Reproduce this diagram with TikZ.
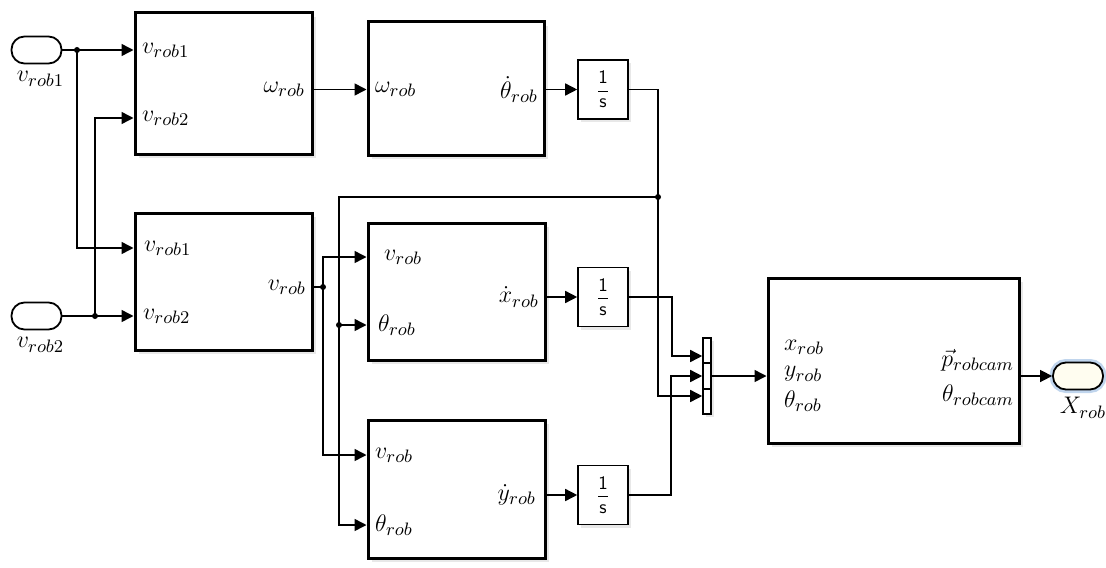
\documentclass[tikz,border=0pt]{standalone}
\usepackage{amsmath}
\usepackage{tikz}
\usetikzlibrary{arrows.meta,positioning,calc,shadows}
\definecolor{simglow}{RGB}{150,185,225}
\definecolor{simfill}{RGB}{255,253,240}

\tikzset{
  blk/.style={draw,line width=1.5pt,fill=white,
    drop shadow={shadow xshift=2pt,shadow yshift=-2pt,opacity=0.18}},
  intg/.style={draw,line width=0.8pt,fill=white,minimum width=25pt,
    minimum height=29.5pt,inner sep=0pt,font=\fontsize{9.5}{11}\sffamily,
    drop shadow={shadow xshift=1.5pt,shadow yshift=-1.5pt,opacity=0.18}},
  port/.style={draw,line width=0.9pt,fill=white,rounded corners=6.5pt,
    minimum width=25pt,minimum height=13.5pt,inner sep=0pt},
  sig/.style={->,line width=0.75pt},
  wire/.style={line width=0.75pt},
}

\begin{document}
\begin{tikzpicture}[x=0.5pt,y=-0.5pt,font=\fontsize{13}{15}\selectfont,
  >={Triangle[length=6pt,width=6pt]}]
  \useasboundingbox (0,0) rectangle (1106,567);

  % blocks
  \node[blk,minimum width=88.5pt,minimum height=70.5pt] (wblk) at (223.5,83.5) {};
  \node[blk,minimum width=88.5pt,minimum height=68.5pt] (vblk) at (223.5,281.5) {};
  \node[blk,minimum width=88pt,minimum height=66.5pt] (thblk) at (456,88.5) {};
  \node[blk,minimum width=88.5pt,minimum height=68.5pt] (dxblk) at (456.5,291.5) {};
  \node[blk,minimum width=88.5pt,minimum height=69pt] (dyblk) at (456.5,489) {};
  \node[blk,minimum width=125.5pt,minimum height=82.5pt] (camblk) at (893.5,360.5) {};

  \node[intg] (thint) at (603,89.5) {$\dfrac{\text{1}}{\text{s}}$};
  \node[intg] (xint) at (603,297) {$\dfrac{\text{1}}{\text{s}}$};
  \node[intg] (yint) at (603,495) {$\dfrac{\text{1}}{\text{s}}$};

  \node[draw,line width=0.8pt,fill=white,minimum width=4pt,minimum height=38pt,
    inner sep=0pt,drop shadow={shadow xshift=1.5pt,shadow yshift=-1.5pt,opacity=0.18}]
    (mux) at (707,376) {};
  \draw[line width=0.8pt] ($(mux.north west)!1/3!(mux.south west)$) -- ($(mux.north east)!1/3!(mux.south east)$);
  \draw[line width=0.8pt] ($(mux.north west)!2/3!(mux.south west)$) -- ($(mux.north east)!2/3!(mux.south east)$);

  % in and out ports
  \node[port] (vin1) at (36.5,50) {};
  \node[port] (vin2) at (36.5,316) {};
  \node[port,fill=simfill,preaction={draw=simglow,line width=3.5pt,opacity=0.6}]
    (xout) at (1078,376) {};
  \node[below=0pt of vin1,xshift=2pt] (vlab1) {$v_{rob1}$};
  \node[below=0pt of vin2,xshift=2pt] (vlab2) {$v_{rob2}$};
  \node[below=0pt of xout,xshift=2.5pt] (xlab) {$X_{rob}$};

  % port labels
  \node[anchor=west] (w1) at (135,50) {$v_{rob1}$};
  \node[anchor=west] (w2) at (135,118) {$v_{rob2}$};
  \node[anchor=east] (wo) at (312,89.5) {$\omega_{rob}$};
  \node[anchor=west] (v1) at (137,248) {$v_{rob1}$};
  \node[anchor=west] (v2) at (136,316) {$v_{rob2}$};
  \node[anchor=east] (vo) at (313,287) {$v_{rob}$};
  \node[anchor=west] (th1) at (368,89.5) {$\omega_{rob}$};
  \node[anchor=east] (tho) at (545,89.5) {$\dot{\theta}_{rob}$};
  \node[anchor=west] (dx1) at (377,257) {$v_{rob}$};
  \node[anchor=west] (dx2) at (371,325) {$\theta_{rob}$};
  \node[anchor=east] (dxo) at (546,297) {$\dot{x}_{rob}$};
  \node[anchor=west] (dy1) at (368,455) {$v_{rob}$};
  \node[anchor=west] (dy2) at (368,525) {$\theta_{rob}$};
  \node[anchor=east] (dyo) at (543,495) {$\dot{y}_{rob}$};
  \node[anchor=west] (c1) at (777,347) {$x_{rob}$};
  \node[anchor=west] (c2) at (777,374) {$y_{rob}$};
  \node[anchor=west] (c3) at (777,401) {$\theta_{rob}$};
  \node[anchor=east] (co1) at (1021,360) {$\vec{p}_{robcam}$};
  \node[anchor=east] (co2) at (1021,395) {$\theta_{robcam}$};

  % branch points
  \coordinate (j1) at (77,50);
  \coordinate (j2) at (95,316);
  \coordinate (j3) at (658,197);
  \coordinate (j4) at (339,325);
  \coordinate (j5) at (323,287);

  % signals
  \draw[sig] (vin1) -- (vin1 -| wblk.west);
  \draw[sig] (j1) |- (vblk.west |- v1);
  \draw[sig] (vin2) -- (vin2 -| vblk.west);
  \draw[sig] (j2) |- (wblk.west |- w2);
  \draw[sig] (wblk.east |- wo) -- (thblk.west |- wo);
  \draw[sig] (thblk.east |- thint) -- (thint.west);
  \draw[wire] (thint.east) -| (j3);
  \draw[sig] (j3) |- ($(mux.west)+(0,20)$);
  \draw[sig] (j3) -| (j4) |- (dyblk.west |- dy2);
  \draw[sig] (j4) -- (dxblk.west |- dx2);
  \draw[wire] (vblk.east |- vo) -- (j5);
  \draw[sig] (j5) |- (dxblk.west |- dx1);
  \draw[sig] (j5) |- (dyblk.west |- dy1);
  \draw[sig] (dxblk.east |- xint) -- (xint.west);
  \draw[sig] (dyblk.east |- yint) -- (yint.west);
  \draw[sig] (xint.east) -| ($(mux.west)+(-30,-20)$) -- ($(mux.west)+(0,-20)$);
  \draw[sig] (yint.east) -| ($(mux.west)+(-31,0)$) -- (mux.west);
  \draw[sig] (mux.east) -- (mux.east -| camblk.west);
  \draw[sig] (camblk.east |- xout) -- (xout.west);

  \foreach \j in {j1,j2,j3,j4,j5}
    \fill (\j) circle[radius=1.5pt];
\end{tikzpicture}
\end{document}
